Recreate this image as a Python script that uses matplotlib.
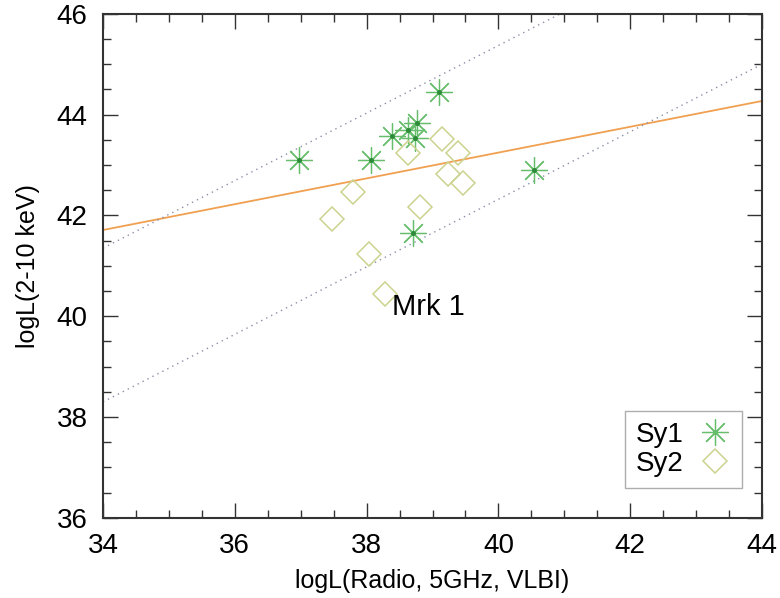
import numpy as np
import matplotlib.pyplot as plt
from matplotlib.ticker import MultipleLocator

plt.rcParams['font.family'] = ['Liberation Sans', 'DejaVu Sans']

####### DATA ######

# Sy1 (asterisks)
sy1_radio = [36.98, 38.06, 38.38, 38.76, 38.73, 38.63, 39.10, 40.54, 38.71]
sy1_xray = [43.09, 43.09, 43.57, 43.83, 43.53, 43.70, 44.44, 42.90, 41.66]

# Sy2 (diamonds)
sy2_radio = [39.14, 38.63, 39.38, 37.79, 39.23, 39.46, 37.47, 38.81, 38.03, 38.28]
sy2_xray = [43.51, 43.24, 43.24, 42.46, 42.82, 42.64, 41.93, 42.16, 41.24, 40.44]

# fit line (orange) and dotted band, given as end points at x=34 and x=44
line_x = [34, 44]
fit_y = [41.71, 44.27]
band_up_y = [41.35, 48.05]
band_lo_y = [38.30, 45.00]

####### PLOT #######

fig = plt.figure(figsize=(7.8, 5.98), dpi=100)
ax = fig.add_axes([0.132, 0.134, 0.845, 0.843])

ax.plot(line_x, fit_y, color='#f0a050', linewidth=1.3)
ax.plot(line_x, band_up_y, linestyle=(0, (1, 3)), color='#8a8fa8', linewidth=1)
ax.plot(line_x, band_lo_y, linestyle=(0, (1, 3)), color='#8a8fa8', linewidth=1)

ax.plot(sy1_radio, sy1_xray, linestyle='none', marker=(8, 2, 0), markersize=19,
        markeredgewidth=0.9, color='#66bd6c', label='Sy1')
ax.plot(sy1_radio, sy1_xray, linestyle='none', marker='o', markersize=2.5,
        color='#2e8b3a')
ax.plot(sy2_radio, sy2_xray, linestyle='none', marker='D', markersize=12,
        markerfacecolor='none', markeredgewidth=1.1, color='#cdd38e', label='Sy2')

ax.text(38.39, 40.19, 'Mrk 1', fontsize=21, va='center', ha='left')

ax.set_xlim(34, 44)
ax.set_ylim(36, 46)
ax.xaxis.set_major_locator(MultipleLocator(2))
ax.xaxis.set_minor_locator(MultipleLocator(0.5))
ax.yaxis.set_major_locator(MultipleLocator(2))
ax.yaxis.set_minor_locator(MultipleLocator(0.5))
ax.tick_params(which='both', direction='in', top=True, right=True,
               labelsize=20, color='#333333', pad=11)
ax.tick_params(which='major', length=11, width=1)
ax.tick_params(which='minor', length=6, width=1)
for s in ax.spines.values():
    s.set_color('#333333')
    s.set_linewidth(1.5)

ax.set_xlabel('logL(Radio, 5GHz, VLBI)', fontsize=18, labelpad=7)
ax.set_ylabel('logL(2-10 keV)', fontsize=18, labelpad=12)

ax.legend(loc='lower right', markerfirst=False, fontsize=20, frameon=True,
          fancybox=False, edgecolor='#999999', handlelength=1.2,
          handletextpad=0.5, borderpad=0.4, labelspacing=0.1,
          borderaxespad=0, bbox_to_anchor=(0.97, 0.06))

fig.savefig('out.png', dpi=100)
